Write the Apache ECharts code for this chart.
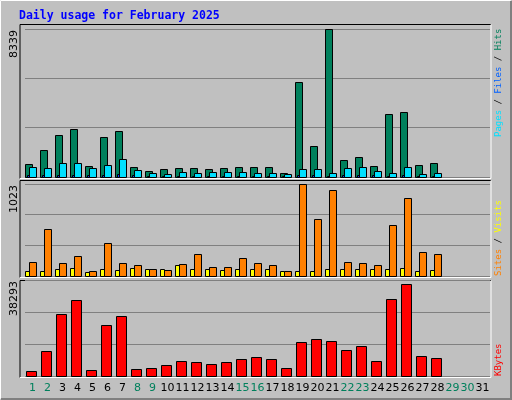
<!DOCTYPE html>
<html><head><meta charset="utf-8">
<script src="https://cdn.jsdelivr.net/npm/echarts@6/dist/echarts.min.js"></script>
<style>html,body{margin:0;padding:0;background:#c0c0c0}#c{width:512px;height:400px}</style>
</head><body><div id="c"></div>
<script>
const days=['1','2','3','4','5','6','7','8','9','10','11','12','13','14','15','16','17','18','19','20','21','22','23','24','25','26','27','28','29','30','31'];
const weekend=['1','2','8','9','15','16','22','23','29','30'];
const hits=[755,1547,2339,2679,641,2226,2566,585,358,472,528,528,472,528,585,585,585,245,5339,1773,8339,981,1151,641,3528,3641,698,811];
const files=[585,528,811,811,528,698,1038,415,245,189,302,245,302,302,302,245,245,189,472,472,245,528,585,358,245,585,189,245];
const pages=[120,110,130,130,100,120,150,90,70,60,80,70,80,80,80,70,70,50,110,110,70,110,120,90,70,120,60,70];
const sites=[156,523,145,222,56,367,145,122,78,67,133,245,100,100,200,145,122,56,1023,634,956,156,145,122,567,867,267,245];
const visits=[56,56,78,89,44,78,67,89,78,78,122,78,78,67,78,78,78,56,56,56,78,78,78,78,78,89,56,67];
const kbytes=[2142,9774,24636,30259,2544,20217,23832,2946,3347,4552,6159,5757,4954,5757,6962,7766,6962,3347,13389,14594,13791,10176,11782,6159,30661,36686,8167,7364];
const maxLabels=['8339','1023','38293'];
const maxVals=[8339,1023,38293];

const chart=echarts.init(document.getElementById('c'));
function barSeries(data,gi,off,w,color,z){
  return {type:'custom',xAxisIndex:gi,yAxisIndex:gi,z:z,data:data.map((v,i)=>[i,v]),
    renderItem:(p,api)=>{const t=api.coord([api.value(0),api.value(1)]);const b=api.coord([api.value(0),0]);
      return {type:'rect',shape:{x:Math.round(t[0]+off)+0.5,y:Math.round(t[1])+0.5,width:w,height:Math.round(b[1]-t[1])},
        style:{fill:color,stroke:'#000',lineWidth:1}};}};
}
const grids=[{left:25,width:465,top:29,height:148},{left:25,width:465,top:184,height:92},{left:25,width:465,top:280,height:96}];
const xAxes=grids.map((g,i)=>({type:'category',gridIndex:i,data:days,axisTick:{show:false},axisLine:{show:false},
  axisLabel:{show:i===2,interval:0,margin:7,fontSize:11,fontFamily:'DejaVu Sans',color:'#000',
    formatter:v=>weekend.includes(v)?'{w|'+v+'}':v,rich:{w:{color:'#00805c',fontSize:11,fontFamily:'DejaVu Sans'}}}}));
const yAxes=grids.map((g,i)=>({type:'value',gridIndex:i,min:0,max:maxVals[i],interval:maxVals[i]/3,
  axisLabel:{show:false},axisLine:{show:false},axisTick:{show:false},splitLine:{lineStyle:{color:'#808080',width:1}}}));
function panel(y1,y2){return [
  {type:'line',shape:{x1:20,y1:y1,x2:491,y2:y1},style:{stroke:'#000',lineWidth:1}},
  {type:'line',shape:{x1:20,y1:y1,x2:20,y2:y2},style:{stroke:'#000',lineWidth:1}},
  {type:'line',shape:{x1:20,y1:y2,x2:491,y2:y2},style:{stroke:'#fff',lineWidth:1}},
  {type:'line',shape:{x1:491,y1:y1,x2:491,y2:y2},style:{stroke:'#fff',lineWidth:1}}];}
const mono='DejaVu Sans Mono';
function sideText(y,rich,text){return {type:'text',x:499,y:y,rotation:Math.PI/2,
  style:{text:text,rich:rich,align:'left',verticalAlign:'middle',font:'9px '+mono}};}
chart.setOption({
  animation:false,backgroundColor:'#c0c0c0',
  grid:grids,xAxis:xAxes,yAxis:yAxes,
  graphic:[
    {type:'rect',shape:{x:0.5,y:0.5,width:510,height:398},style:{fill:'none',stroke:'#fff'}},
    {type:'polyline',shape:{points:[[1,399],[511,399],[511,1]]},style:{fill:'none',stroke:'#808080',lineWidth:2}},
    {type:'text',x:19,y:16,style:{text:'Daily usage for February 2025',font:'bold 11.5px '+mono,fill:'#0000ff',verticalAlign:'middle'}},
    ...panel(24.5,178.5),...panel(180.5,277.5),...panel(280.5,377.5),
    {type:'text',x:14,y:30,rotation:Math.PI/2,style:{text:maxLabels[0],font:'11px DejaVu Sans',fill:'#000',align:'right',verticalAlign:'middle'}},
    {type:'text',x:14,y:185,rotation:Math.PI/2,style:{text:maxLabels[1],font:'11px DejaVu Sans',fill:'#000',align:'right',verticalAlign:'middle'}},
    {type:'text',x:14,y:281,rotation:Math.PI/2,style:{text:maxLabels[2],font:'11px DejaVu Sans',fill:'#000',align:'right',verticalAlign:'middle'}},
    sideText(137,{p:{fill:'#00e0ff',font:'9px '+mono},f:{fill:'#0060ff',font:'9px '+mono},h:{fill:'#00805c',font:'9px '+mono},s:{fill:'#000',font:'9px '+mono}},'{p|Pages}{s| / }{f|Files}{s| / }{h|Hits}'),
    sideText(276,{a:{fill:'#ff8000',font:'9px '+mono},v:{fill:'#ffff00',font:'9px '+mono},s:{fill:'#000',font:'9px '+mono}},'{a|Sites}{s| / }{v|Visits}'),
    sideText(376,{k:{fill:'#ff0000',font:'9px '+mono}},'{k|KBytes}')
  ],
  series:[
    barSeries(hits,0,-7.4,7,'#00805c',2),
    barSeries(pages,0,-5.4,2,'#0040ff',3),
    barSeries(files,0,-3.4,7,'#00e0ff',4),
    barSeries(visits,1,-7.4,4,'#ffff00',2),
    barSeries(sites,1,-3.4,7,'#ff8000',3),
    barSeries(kbytes,2,-6.7,10,'#ff0000',2)
  ]
});
</script></body></html>
